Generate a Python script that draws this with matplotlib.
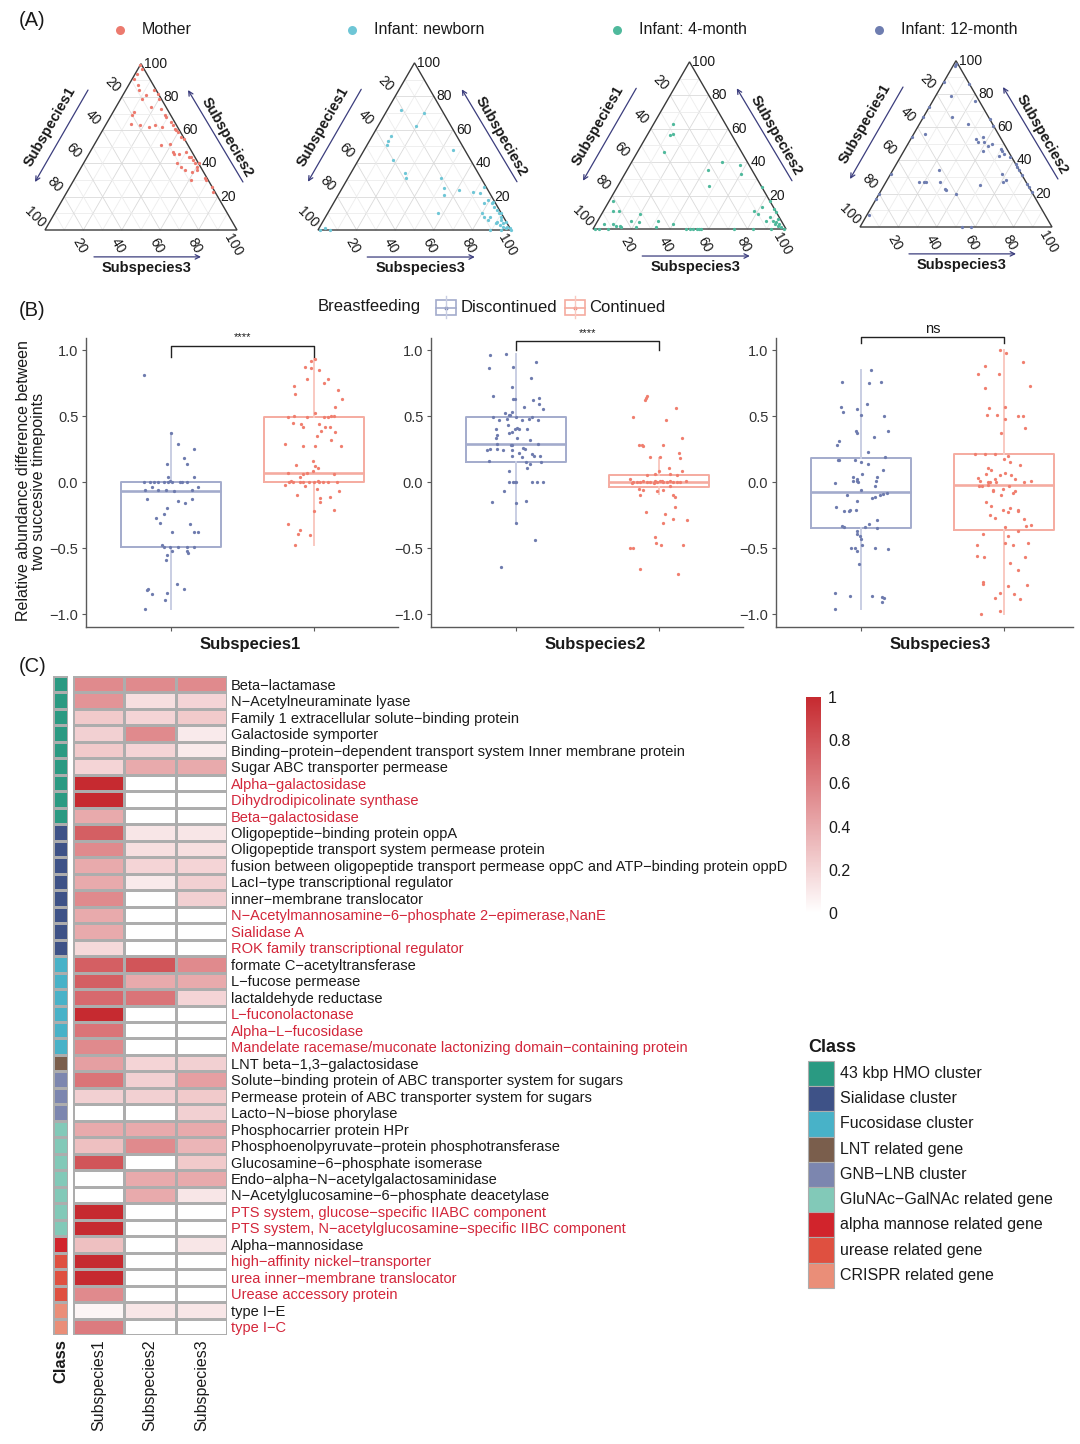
import numpy as np
import matplotlib
matplotlib.use('Agg')
import matplotlib.pyplot as plt
from matplotlib.colors import LinearSegmentedColormap, ListedColormap
from matplotlib.patches import Rectangle, Polygon
from matplotlib.cm import ScalarMappable
from matplotlib.colors import Normalize

plt.rcParams['font.family'] = ['Liberation Sans', 'DejaVu Sans']
plt.rcParams['axes.unicode_minus'] = True

# ---------------------------------------------------------------- data (A)
tern_labels = ['Mother', 'Infant: newborn', 'Infant: 4-month', 'Infant: 12-month']
tern_colors = ['#EC7A6E', '#6EC6D6', '#4FB99C', '#6E7DB0']
# percentages of Subspecies1 and Subspecies2 (Subspecies3 = remainder)
mother_s1 = [1,1,5,8,8,9,7,1,0,1,10,18,20,8,3,3,2,2,2,23,19,15,11,8,1,1,0,14,9,10,
             10,7,3,3,2,2,2,2,0,11,10,9,6,3,1,1,0,1,9,3,2]
mother_s2 = [99,97,94,91,87,84,81,84,82,79,79,71,69,74,73,68,65,63,61,64,63,62,63,62,59,56,55,51,52,47,
             46,46,47,44,44,42,40,38,40,40,38,36,35,36,31,30,26,23,30,69,60]
newborn_s1 = [21,10,18,34,37,39,40,38,39,6,21,22,24,15,8,5,1,3,2,2,1,1,2,1,0,0,33,10,10,9,
              7,5,2,11,5,99,96,94,6,1,1,0,4,3,6,0,2]
newborn_s2 = [72,70,62,56,53,51,42,34,31,48,31,25,21,24,23,22,26,18,16,14,12,8,4,2,0,1,10,10,8,6,
              8,5,6,0,0,0,1,0,16,17,10,10,3,2,4,5,1]
m4_s1 = [27,30,32,40,13,5,7,23,27,81,84,81,93,88,87,85,85,78,71,74,77,64,67,57,50,48,46,44,27,17,
         8,6,11,10,0,0,5,4,4,3,2,1,99,97,92,0,0,1,45,52,3,2,8]
m4_s2 = [63,57,56,46,40,38,33,35,26,17,11,11,3,3,2,2,1,5,9,4,1,5,1,3,0,0,0,0,0,0,
         0,13,11,9,17,12,7,5,3,2,1,0,0,0,0,25,10,6,0,0,4,3,5]
m12_s1 = [2,1,13,13,0,2,28,34,19,13,0,0,38,46,13,13,9,10,9,6,13,3,3,3,1,68,42,10,10,12,
          0,0,0,0,0,56,53,52,45,44,44,40,25,80,83,92,47,42,0,0,6]
m12_s2 = [97,98,87,79,86,76,72,66,66,62,65,61,56,54,53,51,54,51,49,50,46,47,46,44,42,32,34,32,28,27,
          34,31,26,24,21,27,27,27,27,23,22,20,25,20,17,7,0,0,36,38,43]
tern_ticks = [20, 40, 60, 80, 100]

# ---------------------------------------------------------------- data (B)
subspecies = ['Subspecies1', 'Subspecies2', 'Subspecies3']
groups = ['Discontinued', 'Continued']
sig_labels = ['****', '****', 'ns']
disc_q1 = [-0.49, 0.15, -0.35]
disc_med = [-0.07, 0.29, -0.075]
disc_q3 = [0.0, 0.49, 0.18]
disc_lo = [-0.96, -0.31, -0.96]
disc_hi = [0.37, 0.97, 0.85]
cont_q1 = [0.0, -0.04, -0.36]
cont_med = [0.07, 0.0, -0.02]
cont_q3 = [0.49, 0.05, 0.21]
cont_lo = [-0.48, -0.09, -1.0]
cont_hi = [0.93, 0.18, 1.0]

d1_y = [0.81,0.37,0.29,0.25,0.18,0.14,0.14,0.04,0.04, 0,0,0,0,0,0,0.005,0,0,0,0,
        -0.06,-0.04,-0.06,-0.06,-0.07,-0.06,-0.04,-0.13,-0.14,-0.13,-0.16,-0.20,-0.24,-0.27,-0.31,-0.32,
        -0.38,-0.38,-0.38,-0.48,-0.49,-0.49,-0.49,-0.49,-0.49,-0.52,-0.52,-0.54,-0.55,-0.59,
        -0.81,-0.82,-0.85,-0.84,-0.89,-0.77,-0.81,-0.96]
d1_dx = [-0.19,0,0.05,0.16,0.09,0.115,-0.03,-0.02,0.16, -0.19,-0.15,-0.12,-0.09,-0.05,-0.02,-0.01,0.005,0.06,0.08,0.11,
         -0.18,-0.13,-0.09,-0.035,0.02,0.15,0.19,-0.17,0.05,0.15,0.1,-0.03,-0.05,-0.105,-0.08,0.13,
         0.01,0.16,0.19,-0.065,-0.05,-0.01,0.05,0.11,0.16,0.005,0.11,0.12,-0.03,-0.035,
         -0.16,-0.17,-0.135,-0.03,-0.04,0.04,0.09,-0.18]
c1_y = [0.92,0.93,0.87,0.86,0.85,0.78,0.78,0.75,0.73,0.70,0.67,0.63,0.57, 0.50,0.49,0.49,0.52,0.49,0.49,0.50,0.50,
        0.45,0.44,0.44,0.42,0.42,0.42, 0.39,0.35,0.38,0.32, 0.29,0.27,0.27,0.27, 0.16,0.13,0.12,0.11,
        0.08,0.06,0.07,0.06,0.07,0.04, 0,0,0,0,0,0,0,0,0,0,0.01,0.01, -0.02,-0.03,-0.05,-0.07,
        -0.10,-0.12,-0.11,-0.15,-0.22,-0.21,-0.32,-0.36,-0.39,-0.40,-0.48]
c1_dx = [-0.02,0.01,-0.06,-0.02,0.035,-0.05,0.1,0.07,-0.14,0.165,-0.13,0.195,0.15, -0.14,-0.18,-0.05,0.01,0.07,0.1,0.12,0.14,
         -0.145,-0.09,0.035,0.08,-0.08,0.11, 0.05,0.02,0.15,0.12, -0.2,-0.08,0.01,0.19, -0.01,-0.125,0.005,0.03,
         -0.01,-0.08,-0.05,0.14,-0.18,-0.1, -0.175,-0.145,-0.1,-0.08,-0.035,0,0.035,0.06,0.1,0.16,-0.16,0.025,
         -0.2,-0.065,0.02,0.175, -0.12,0.04,0.11,0.04,0,0.14,-0.18,-0.1,-0.11,-0.03,-0.13]
d2_y = [0.96,0.97,0.86,0.87,0.91,0.79,0.72,0.65,0.63,0.63,0.62,0.64,0.59,0.57,0.55, 0.52,0.51,0.53,0.51,
        0.49,0.49,0.47,0.48,0.47,0.48,0.49,0.47, 0.43, 0.40,0.41,0.40,0.38, 0.40,0.36,0.37,0.40,0.29,
        0.33,0.32,0.33, 0.24,0.29,0.28,0.28, 0.26,0.25, 0.25,0.25,0.24,0.24, 0.22,0.21,0.20,0.20,
        0.20,0.19, 0.16,0.15,0.14,0.15, 0.11,0.08, 0,0,0,0,0,0,0, -0.07,-0.15,-0.16,-0.14,-0.31,-0.44,-0.64]
d2_dx = [-0.18,-0.07,-0.19,-0.02,0.14,0.105,-0.03,-0.16,-0.02,-0.01,0.12,0.16,0.16,0.055,0.19, -0.08,-0.04,-0.03,-0.05,
         0,-0.16,-0.12,-0.065,0.045,0.09,0.11,0.155, -0.055, -0.01,0.005,0.02,-0.03, -0.14,-0.13,-0.05,0.075,0.155,
         0.005,0.095,-0.14, -0.205,-0.13,-0.035,-0.025, 0.05,0.06, -0.18,-0.13,-0.09,-0.03, 0.02,0.11,0.125,0.17,
         -0.03,0.04, -0.19,0.07,0.1,0.175, 0.075,-0.05, -0.05,-0.02,-0.01,0,0.11,0.15,0.19, -0.085,-0.17,0,0.07,0,0.13,-0.105]
c2_y = [0.64,0.62,0.65,0.56,0.49,0.47,0.33,0.28,0.28,0.27,0.28,0.22,0.18,0.19,0.19,0.11,0.08,0.08,0.05,0.06,0.06,0.05,
        0.02,0,0,0,0.01,0,0,-0.01,0,0.01,0,0,0.01,0,0,0,0.01,-0.01,0.01,0.01,
        -0.05,-0.06,-0.07,-0.06,-0.03,-0.10,-0.10,-0.11,-0.19,-0.23,-0.24,-0.31,-0.28,-0.29,-0.42,-0.46,-0.48,-0.48,
        -0.50,-0.50,-0.66,-0.70]
c2_dx = [-0.09,-0.095,-0.085,0.12,-0.185,0.05,0.16,-0.14,-0.12,-0.11,0.03,0.14,0.15,-0.065,0.005,0.07,0.16,0,-0.085,-0.025,0.08,0.125,
         -0.2,-0.18,-0.155,-0.13,-0.11,-0.085,-0.06,-0.035,-0.015,0.01,0.03,0.055,0.08,0.1,0.125,0.15,0.19,-0.19,-0.025,0.02,
         -0.14,-0.11,-0.015,0.03,0.08,-0.135,0.1,0.11,0.11,-0.09,0.04,0.03,0.1,0.195,-0.03,-0.02,0.015,0.17,
         -0.2,-0.185,-0.135,0.13]
d3_y = [0.85,0.76,0.75,0.755,0.57,0.53,0.55,0.59,0.51,0.50,0.39,0.385,0.37,0.34,0.31,0.28,0.23,
        0.17,0.165,0.165,0.15,0.14,0.19, 0.09,0.06, 0.04,0.01,0.01,0.0,0.02, 0.04,0.01,-0.03, -0.005,-0.06,
        -0.08,-0.09,-0.10, -0.10,-0.12,-0.11,-0.14,-0.19,-0.21, -0.22,-0.22,-0.21, -0.33,-0.34,-0.34,-0.32,-0.29,-0.35,
        -0.37,-0.39,-0.405,-0.43,-0.48, -0.50,-0.50,-0.52,-0.50,-0.51,-0.62, -0.84,-0.86,-0.86,-0.87,-0.88,-0.91,-0.965]
d3_dx = [0.07,-0.13,0.055,0.14,-0.14,-0.125,-0.03,0.04,0,0.16,0.19,-0.035,-0.03,0.09,-0.155,-0.165,0.05,
         -0.16,-0.155,-0.04,0,0.05,0.17, 0.155,0.01, -0.055,-0.055,-0.03,-0.02,-0.025, 0.11,0.105,0.1, -0.18,0,
         0.18,0.155,0.13, -0.1,0.075,0.1,-0.025,-0.175,-0.035, -0.12,-0.085,-0.075, -0.135,-0.12,0.025,0.055,0.11,0.115,
         -0.03,-0.025,-0.005,0,0.005, -0.07,-0.045,-0.03,0.095,0.19,-0.015, -0.185,-0.08,0.075,0.15,0.16,0.145,-0.185]
c3_y = [1.0,0.98,0.91,0.88,0.82,0.82,0.73,0.71,0.57,0.56, 0.51,0.51,0.50,0.50,0.48, 0.41,0.37, 0.215,0.21,0.21,
        0.195,0.175,0.15,0.13, 0.105,0.09,0.07, 0.06,0.05,0.05,0.02, 0.03,0.01,0,0,0.02,0, 0,0.01, -0.03,-0.03,-0.02,
        -0.03,-0.05,-0.06,-0.07, -0.08,-0.07,-0.10,
        -0.15,-0.18,-0.21,-0.23,-0.21,-0.22,-0.20,-0.25,-0.27,-0.28,-0.33,-0.325,-0.34,-0.37,-0.39,-0.41,-0.48,-0.46,
        -0.46,-0.48,-0.56,-0.565,-0.565,-0.61,-0.67,-0.76,-0.77,-0.785,-0.78,-0.84,-0.88,-0.85,-0.885,-0.975,-1.0]
c3_dx = [-0.03,0.015,0.13,-0.135,-0.185,-0.035,0.18,-0.135,0.01,-0.105, -0.12,-0.05,0.1,0.13,0.01, 0.145,-0.02,
         -0.205,-0.13,-0.06, 0.03,0,0.045,0.115, -0.11,-0.09,0.01, -0.125,-0.03,0.05,0.08,
         -0.185,-0.165,-0.11,-0.095,-0.065,-0.055, 0.14,0.19, -0.155,-0.175,-0.11, 0.035,-0.01,-0.075,-0.075,
         0.06,0.075,-0.02,
         -0.125,-0.09,-0.01,0.03,0.095,0.1,0.04,-0.1,-0.065,0.14,0.155,0.19,0.01,0.095,-0.145,0.03,0.065,0.005,
         0.17,-0.19,-0.19,-0.14,0.145,0.04,0.1,-0.145,-0.145,0.03,0.16,-0.03,-0.065,0.07,0.11,-0.03,-0.16]

# ---------------------------------------------------------------- data (C)
genes = ['Beta−lactamase', 'N−Acetylneuraminate lyase', 'Family 1 extracellular solute−binding protein',
         'Galactoside symporter', 'Binding−protein−dependent transport system Inner membrane protein',
         'Sugar ABC transporter permease', 'Alpha−galactosidase', 'Dihydrodipicolinate synthase',
         'Beta−galactosidase', 'Oligopeptide−binding protein oppA',
         'Oligopeptide transport system permease protein',
         'fusion between oligopeptide transport permease oppC and ATP−binding protein oppD',
         'LacI−type transcriptional regulator', 'inner−membrane translocator',
         'N−Acetylmannosamine−6−phosphate 2−epimerase,NanE', 'Sialidase A',
         'ROK family transcriptional regulator', 'formate C−acetyltransferase', 'L−fucose permease',
         'lactaldehyde reductase', 'L−fuconolactonase', 'Alpha−L−fucosidase',
         'Mandelate racemase/muconate lactonizing domain−containing protein', 'LNT beta−1,3−galactosidase',
         'Solute−binding protein of ABC transporter system for sugars',
         'Permease protein of ABC transporter system for sugars', 'Lacto−N−biose phorylase',
         'Phosphocarrier protein HPr', 'Phosphoenolpyruvate−protein phosphotransferase',
         'Glucosamine−6−phosphate isomerase', 'Endo−alpha−N−acetylgalactosaminidase',
         'N−Acetylglucosamine−6−phosphate deacetylase', 'PTS system, glucose−specific IIABC component',
         'PTS system, N−acetylglucosamine−specific IIBC component', 'Alpha−mannosidase',
         'high−affinity nickel−transporter', 'urea inner−membrane translocator', 'Urease accessory protein',
         'type I−E', 'type I−C']
highlight = [0,0,0,0,0,0,1,1,1,0, 0,0,0,0,1,1,1,0,0,0, 1,1,1,0,0,0,0,0,0,0, 0,0,1,1,0,1,1,1,0,1]
sub1_val = [0.55,0.50,0.25,0.22,0.25,0.20,1.00,1.00,0.40,0.75, 0.55,0.40,0.40,0.55,0.40,0.40,0.18,0.75,0.75,0.70,
            1.00,0.65,0.55,0.45,0.65,0.22,0.00,0.40,0.30,0.80, 0.00,0.00,1.00,1.00,0.30,1.00,1.00,0.55,0.05,0.62]
sub2_val = [0.55,0.15,0.20,0.55,0.20,0.40,0.00,0.00,0.00,0.12, 0.15,0.20,0.10,0.00,0.00,0.00,0.00,0.80,0.40,0.65,
            0.00,0.00,0.00,0.20,0.22,0.22,0.00,0.40,0.55,0.00, 0.40,0.40,0.00,0.00,0.00,0.00,0.00,0.00,0.12,0.00]
sub3_val = [0.55,0.20,0.25,0.10,0.10,0.40,0.00,0.00,0.00,0.12, 0.15,0.20,0.22,0.22,0.00,0.00,0.00,0.55,0.40,0.20,
            0.00,0.00,0.00,0.22,0.45,0.25,0.22,0.40,0.35,0.25, 0.40,0.12,0.00,0.00,0.12,0.00,0.00,0.00,0.12,0.00]
class_names = ['43 kbp HMO cluster', 'Sialidase cluster', 'Fucosidase cluster', 'LNT related gene',
               'GNB−LNB cluster', 'GluNAc−GalNAc related gene', 'alpha mannose related gene',
               'urease related gene', 'CRISPR related gene']
class_colors = ['#2A9A82', '#3E5287', '#48B2C8', '#7A5E4C', '#7C86AF', '#82C9B8', '#D1242C', '#DF5040', '#EA8E78']
row_class = [0]*9 + [1]*8 + [2]*6 + [3] + [4]*3 + [5]*7 + [6] + [7]*3 + [8]*2
cbar_ticks = [0, 0.2, 0.4, 0.6, 0.8, 1]
cbar_ticklabels = ['0', '0.2', '0.4', '0.6', '0.8', '1']

# ---------------------------------------------------------------- figure
W, H = 1080, 1444
fig = plt.figure(figsize=(W / 100, H / 100), dpi=100)
TXT = '#1a1a1a'


def px_axes(x0, y0, x1, y1):
    return fig.add_axes([x0 / W, 1 - y1 / H, (x1 - x0) / W, (y1 - y0) / H])


# overlay in pixel coordinates for free text / legends
ov = px_axes(0, 0, W, H)
ov.set_xlim(0, W)
ov.set_ylim(H, 0)
ov.axis('off')
ov.set_zorder(20)

for lab, y in [('(A)', 21), ('(B)', 310), ('(C)', 666)]:
    ov.text(19, y, lab, fontsize=14.5, ha='left', va='center', color=TXT)

# ---------------------------------------------------------------- (A) ternary
h3 = np.sqrt(3) / 2
ARROW = '#3B3D7D'


def tc(a1, a2):
    a1 = np.asarray(a1, float)
    a2 = np.asarray(a2, float)
    a3 = 1 - a1 - a2
    return a3 + a2 / 2, a2 * h3


def ternary(xl, yb, w, s1, s2, color, label, lx):
    ax = px_axes(xl - 0.4 * w, yb - 1.1 * w, xl + 1.4 * w, yb + 0.3 * w)
    ax.set_xlim(-0.4, 1.4)
    ax.set_ylim(-0.3, 1.1)
    ax.axis('off')
    for k in range(1, 10):
        f = k / 10
        col = '#dadada' if k % 2 == 0 else '#ededed'
        for (a, b) in [((1 - f, f), (0, f)), ((f, 0), (f, 1 - f)), ((1 - f, 0), (0, 1 - f))]:
            xa, ya = tc(*a)
            xb, yb_ = tc(*b)
            ax.plot([xa, xb], [ya, yb_], color=col, lw=0.6, zorder=1)
    ax.add_patch(Polygon([(0, 0), (1, 0), (0.5, h3)], closed=True, fill=False,
                         ec='#3a3a3a', lw=1.0, zorder=2))
    x, y = tc(np.array(s1) / 100, np.array(s2) / 100)
    ax.scatter(x, y, s=5.5, color=color, linewidths=0, zorder=3, clip_on=False)
    for v in tern_ticks:
        f = v / 100
        xr, yr = tc(0, f)
        ax.text(xr + 0.015, yr, str(v), ha='left', va='center', fontsize=10, color=TXT)
        xl_, yl_ = tc(f, 1 - f)
        ax.text(xl_ - 0.05, yl_ + 0.065, str(v), ha='center', va='center', fontsize=10,
                rotation=-45, rotation_mode='anchor', color=TXT)
        xb_, ybb = tc(1 - f, 0)
        ax.text(xb_ - 0.02, ybb - 0.08, str(v), ha='center', va='center', fontsize=10,
                rotation=-60, rotation_mode='anchor', color=TXT)
    ax.text(0.026, 0.536, 'Subspecies1', rotation=60, ha='center', va='center',
            fontsize=10.5, fontweight='bold', color=TXT)
    ax.text(0.948, 0.484, 'Subspecies2', rotation=-60, ha='center', va='center',
            fontsize=10.5, fontweight='bold', color=TXT)
    ax.text(0.531, -0.198, 'Subspecies3', ha='center', va='center',
            fontsize=10.5, fontweight='bold', color=TXT)
    for st, en in [((0.224, 0.729), (-0.052, 0.25)), ((1.031, 0.25), (0.745, 0.729)),
                   ((0.255, -0.14), (0.8125, -0.14))]:
        ax.annotate('', xy=en, xytext=st,
                    arrowprops=dict(arrowstyle='->', color=ARROW, lw=0.9, shrinkA=0, shrinkB=0,
                                    mutation_scale=8))
    ov.scatter([lx], [30], s=42, color=color, linewidths=0)
    ov.text(lx + 22, 30, label, ha='left', va='center', fontsize=11.5, color=TXT)


tern_geom = [(45, 230, 192, 120), (318, 230, 193, 352), (593, 229, 193, 617), (860, 227, 192, 879)]
tern_data = [(mother_s1, mother_s2), (newborn_s1, newborn_s2), (m4_s1, m4_s2), (m12_s1, m12_s2)]
for (xl, yb, w, lx), (s1, s2), col, lab in zip(tern_geom, tern_data, tern_colors, tern_labels):
    ternary(xl, yb, w, s1, s2, col, lab, lx)

# ---------------------------------------------------------------- (B) boxplots
D_PT, D_BOX, D_WH = '#6E7BAE', '#A3ABCC', '#C9CEE3'
C_PT, C_BOX, C_WH = '#F07E6E', '#F5ABA0', '#F9C9C1'
panel_px = [(86, 398), (431, 743), (776, 1073)]
pts = [((d1_y, d1_dx), (c1_y, c1_dx)), ((d2_y, d2_dx), (c2_y, c2_dx)), ((d3_y, d3_dx), (c3_y, c3_dx))]
brackets = [(1.03, 0.95, 0.95, 1.10), (1.065, 1.0, 1.0, 1.13), (1.10, 1.05, 1.05, 1.16)]
PXU = 143.0
for i, (x0, x1) in enumerate(panel_px):
    ax = px_axes(x0, 338, x1, 627)
    left = 1 - 85 / PXU
    ax.set_xlim(left, left + (x1 - x0) / PXU)
    ax.set_ylim(-1.098, 1.091)
    ax.patch.set_alpha(0)
    sd = dict(med=disc_med[i], q1=disc_q1[i], q3=disc_q3[i], whislo=disc_lo[i], whishi=disc_hi[i], fliers=[])
    sc = dict(med=cont_med[i], q1=cont_q1[i], q3=cont_q3[i], whislo=cont_lo[i], whishi=cont_hi[i], fliers=[])
    for st, pos, cb, cw in [(sd, 1, D_BOX, D_WH), (sc, 2, C_BOX, C_WH)]:
        ax.bxp([st], positions=[pos], widths=0.7, showcaps=False, showfliers=False,
               boxprops=dict(color=cb, lw=1.4), medianprops=dict(color=cb, lw=1.9),
               whiskerprops=dict(color=cw, lw=1.4), manage_ticks=False)
    (dy, ddx), (cy, cdx) = pts[i]
    ax.scatter(1 + np.array(ddx[:len(dy)]), np.array(dy[:len(ddx)]), s=5.5, color=D_PT, linewidths=0, zorder=4)
    ax.scatter(2 + np.array(cdx[:len(cy)]), np.array(cy[:len(cdx)]), s=5.5, color=C_PT, linewidths=0, zorder=4)
    top, dl, dr, ty = brackets[i]
    ax.plot([1, 1, 2, 2], [dl, top, top, dr], color='#222222', lw=1.0, clip_on=False)
    ax.text(1.5, ty, sig_labels[i], ha='center', va='center',
            fontsize=8 if sig_labels[i] != 'ns' else 10.5, color=TXT, clip_on=False)
    for s in ['top', 'right']:
        ax.spines[s].set_visible(False)
    for s in ['left', 'bottom']:
        ax.spines[s].set_color('#5a5a5a')
        ax.spines[s].set_linewidth(1.0)
    ax.set_yticks([-1, -0.5, 0, 0.5, 1])
    ax.set_yticklabels(['−1.0', '−0.5', '0.0', '0.5', '1.0'])
    ax.set_xticks([1, 2])
    ax.set_xticklabels([])
    ax.tick_params(axis='both', length=3, color='#5a5a5a', width=0.8, labelsize=10.5,
                   labelcolor='#333333', pad=2.5)
    ov.text(x0 + 164, 644, subspecies[i], ha='center', va='center', fontsize=12,
            fontweight='bold', color=TXT)

ov.text(31, 481, 'Relative abundance difference between\ntwo succesive timepoints', rotation=90,
        ha='center', va='center', multialignment='center', fontsize=11.5, color=TXT, linespacing=1.05)

# legend (B)
ov.text(318, 307, 'Breastfeeding', ha='left', va='center', fontsize=12, color=TXT)
for kx, tx, cb, cw, cp, lab in [(436, 461, D_BOX, D_WH, D_PT, groups[0]), (565, 589, C_BOX, C_WH, C_PT, groups[1])]:
    ov.plot([kx + 10, kx + 10], [296, 318], color=cw, lw=1.0)
    ov.add_patch(Rectangle((kx, 300), 20, 15, fill=False, ec=cb, lw=1.2))
    ov.plot([kx, kx + 20], [307.5, 307.5], color=cb, lw=1.2)
    ov.scatter([kx + 10], [307.5], s=8, color=cp, linewidths=0)
    ov.text(tx, 307, lab, ha='left', va='center', fontsize=12, color=TXT)

# ---------------------------------------------------------------- (C) heatmap
cmap = LinearSegmentedColormap.from_list('wr', ['#FFFFFF', '#C62A30'])
vals = np.column_stack([sub1_val, sub2_val, sub3_val])
hm = px_axes(73, 676, 227, 1335)
hm.pcolormesh(vals, cmap=cmap, vmin=0, vmax=1, edgecolors='#adadad', linewidth=0.8)
hm.set_xlim(0, 3)
hm.set_ylim(len(genes), 0)
for s in hm.spines.values():
    s.set_visible(False)
hm.yaxis.tick_right()
hm.set_yticks(np.arange(len(genes)) + 0.5)
hm.set_yticklabels(genes, fontsize=10.5)
for lab, hl in zip(hm.get_yticklabels(), highlight):
    lab.set_color('#D3263A' if hl else TXT)
hm.set_xticks([0.5, 1.5, 2.5])
hm.set_xticklabels(subspecies, rotation=90, fontsize=11.5, color=TXT)
hm.tick_params(axis='both', length=0, pad=3)

ca = px_axes(53, 676, 68, 1335)
ca.pcolormesh(np.array(row_class)[:, None], cmap=ListedColormap(class_colors), vmin=-0.5,
              vmax=len(class_colors) - 0.5, edgecolors='#adadad', linewidth=0.8)
ca.set_xlim(0, 1)
ca.set_ylim(len(row_class), 0)
for s in ca.spines.values():
    s.set_visible(False)
ca.set_yticks([])
ca.set_xticks([0.5])
ca.set_xticklabels(['Class'], rotation=90, fontsize=12, fontweight='bold', color=TXT)
ca.tick_params(axis='x', length=0, pad=3)

# colorbar
cax = px_axes(806, 697, 821, 913)
cb = fig.colorbar(ScalarMappable(norm=Normalize(0, 1), cmap=cmap), cax=cax, ticks=cbar_ticks)
cb.set_ticklabels(cbar_ticklabels)
cb.outline.set_visible(False)
cax.tick_params(length=0, labelsize=11.5, pad=5, labelcolor=TXT)

# class legend
ov.text(808, 1047, 'Class', ha='left', va='center', fontsize=13, fontweight='bold', color=TXT)
for k, (nm, col) in enumerate(zip(class_names, class_colors)):
    y0 = 1061 + k * 25.2
    ov.add_patch(Rectangle((808, y0), 26, 25.2, fc=col, ec='#adadad', lw=0.8))
    ov.text(840, y0 + 12.6, nm, ha='left', va='center', fontsize=11.5, color=TXT)

fig.savefig('out.png', dpi=100)
